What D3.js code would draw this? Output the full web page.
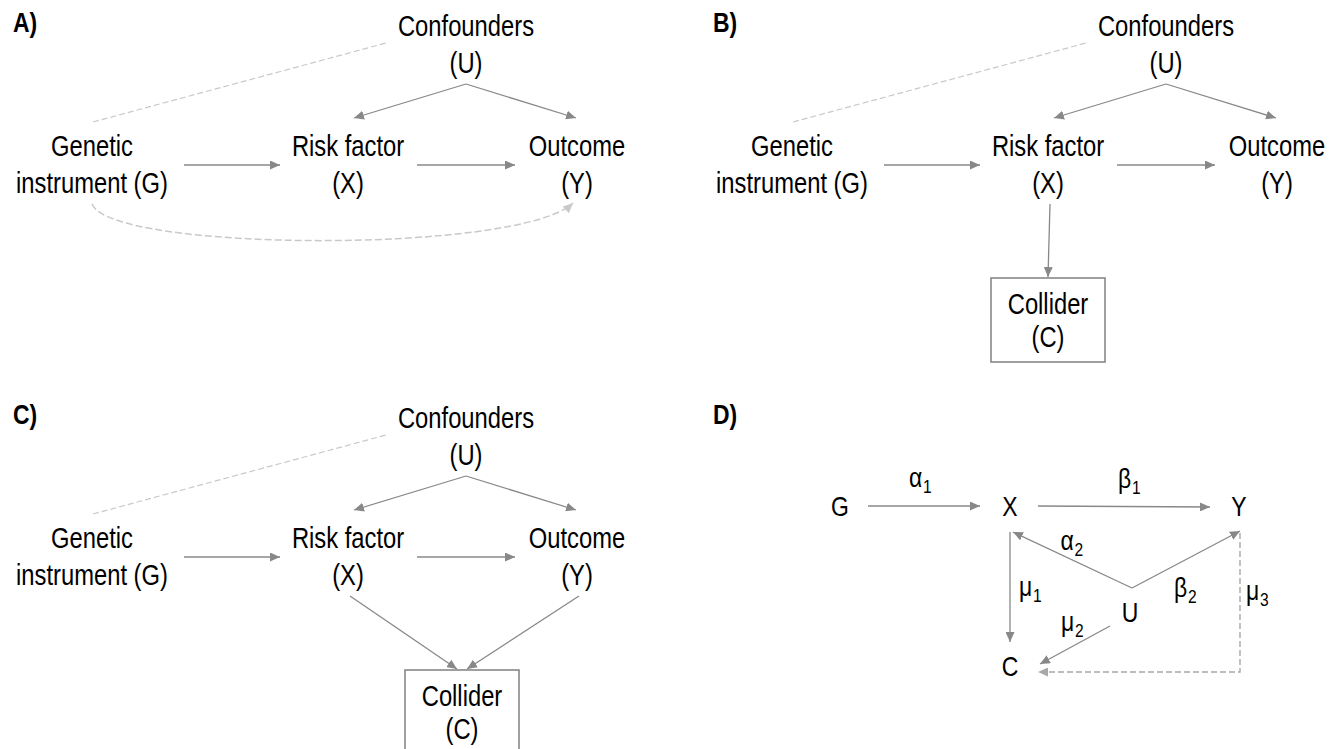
<!DOCTYPE html>
<html>
<head>
<meta charset="utf-8">
<script src="https://cdn.jsdelivr.net/npm/d3@7"></script>
<style>
    body { margin: 0; background: #ffffff; }
    svg { display: block; }
</style>
</head>
<body>
<svg id="chart" width="1330" height="749"></svg>
<script>
// ---- data ----
const panels = ["A", "B", "C", "D"];
const panelTitles = ["A)", "B)", "C)", "D)"];

// word diagrams (A, B, C)
const nodeIds = ["U", "G", "X", "Y", "C"];
const nodeLines = [
    ["Confounders", "(U)"],
    ["Genetic", "instrument (G)"],
    ["Risk factor", "(X)"],
    ["Outcome", "(Y)"],
    ["Collider", "(C)"]
];

// [source, target, kind]
const edgesA = [
    ["G", "U", "assoc"],
    ["G", "Y", "pleiotropy"],
    ["G", "X", "effect"],
    ["X", "Y", "effect"],
    ["U", "X", "effect"],
    ["U", "Y", "effect"]
];
const edgesB = [
    ["G", "U", "assoc"],
    ["G", "X", "effect"],
    ["X", "Y", "effect"],
    ["U", "X", "effect"],
    ["U", "Y", "effect"],
    ["X", "C", "effect"]
];
const edgesC = [
    ["G", "U", "assoc"],
    ["G", "X", "effect"],
    ["X", "Y", "effect"],
    ["U", "X", "effect"],
    ["U", "Y", "effect"],
    ["X", "C", "effect"],
    ["Y", "C", "effect"]
];

// symbolic diagram (D): [source, target, symbol, subscript]
const dNodes = ["G", "X", "Y", "U", "C"];
const dEdges = [
    ["G", "X", "α", "1"],
    ["X", "Y", "β", "1"],
    ["U", "X", "α", "2"],
    ["U", "Y", "β", "2"],
    ["X", "C", "μ", "1"],
    ["U", "C", "μ", "2"],
    ["Y", "C", "μ", "3"]
];

// ---- layout ----
const attr = {
    size: 29,
    dSize: 28,
    subSize: 19,
    titleSize: 28,
    line: "#888888",
    light: "#c9c9c9",
    mid: "#a8a8a8",
    stroke: 1.3,
    boxW: 114,
    boxH: 84
};

const panelX = d3.scaleOrdinal().domain(panels).range([0, 700, 0, 700]);
const panelY = d3.scaleOrdinal().domain(panels).range([0, 0, 392, 392]);
const title = d3.scaleOrdinal().domain(panels).range(panelTitles);

const colX = d3.scaleOrdinal().domain(["G", "X", "U", "Y"]).range([92, 348, 466, 577]);
const rowY = d3.scaleOrdinal().domain(["U", "G", "X", "Y", "C"]).range([84, 165, 165, 165, 278]);
const lines = d3.scaleOrdinal().domain(nodeIds).range(nodeLines);

const dX = d3.scaleOrdinal().domain(dNodes).range([140, 310, 539, 430, 310]);
const dY = d3.scaleOrdinal().domain(dNodes).range([114, 114, 114, 220, 274]);

const dPorts = {
    "G-X": [[28, 0], [-30, 0]],
    "X-Y": [[28, 0], [-29, 1]],
    "U-X": [[2, -24], [3, 26]],
    "U-Y": [[2, -24], [1, 25]],
    "X-C": [[0, 26], [0, -24]],
    "U-C": [[-20, 14], [30, -2]],
    "Y-C": [[1, 27], [28, 6]]
};
const dLabelOffset = {
    "G-X": [-15, -19],
    "X-Y": [-6, -19],
    "U-X": [-12, -10],
    "U-Y": [-12, 37],
    "X-C": [9, 9],
    "U-C": [-14, -14],
    "Y-C": [6, -3]
};

// font: prefer a narrow face, else squeeze the regular one
const hasFont = function(name) {
    let c = document.createElement("canvas").getContext("2d");
    c.font = "40px monospace";
    let a = c.measureText("Confounders Wim").width;
    c.font = '40px "' + name + '", monospace';
    let b = c.measureText("Confounders Wim").width;
    return a !== b;
};
const narrow = hasFont("Liberation Sans Narrow");
const FONT = narrow ? '"Liberation Sans Narrow", "Arial Narrow", sans-serif' : '"Liberation Sans", Arial, sans-serif';
const SX = narrow ? 1 : 0.82;

const translate = function(a, b) {
    return "translate(" + a + ", " + b + ")";
};

const put = function(g, x, y, str, size, weight, anchor) {
    return g
        .append("g")
        .attr("transform", translate(x, y) + " scale(" + SX + ",1)")
        .append("text")
        .attr("text-anchor", anchor || "middle")
        .style("font-family", FONT)
        .style("font-size", size + "px")
        .style("font-weight", weight || "normal")
        .style("fill", "#000")
        .text(str);
};

const svg = d3.select("#chart");

// arrow markers
const defs = svg.append("defs");
[["head", attr.line], ["headLight", attr.light], ["headMid", attr.mid]].forEach(function(m) {
    defs.append("marker")
        .attr("id", m[0])
        .attr("viewBox", "0 0 10 9")
        .attr("refX", 10)
        .attr("refY", 4.5)
        .attr("markerWidth", 10)
        .attr("markerHeight", 9)
        .attr("markerUnits", "userSpaceOnUse")
        .attr("orient", "auto")
        .append("path")
        .attr("d", "M0,0L10,4.5L0,9Z")
        .style("fill", m[1]);
});

const drawWordPanel = function(pid, edges, colliderX) {
    let g = svg.append("g").attr("transform", translate(panelX(pid), panelY(pid)));
    put(g, 13, 32, title(pid), attr.titleSize, "bold", "start");

    let pos = id => (id === "C" ? [colliderX, rowY("C")] : [colX(id), rowY(id)]);

    let ends = function(s, t, kind) {
        let a = pos(s), b = pos(t);
        if (kind === "assoc") return [[a[0] + 1, a[1] - 43], [b[0] - 80, b[1] - 41]];
        if (kind === "pleiotropy") return [[a[0], a[1] + 39], [b[0] - 4, b[1] + 38]];
        if (s === "U") return [a, [b[0] + (t === "X" ? 6 : -1), b[1] - 47]];
        if (t === "C") {
            let dx = Math.sign(a[0] - b[0]) * 5;
            return [[a[0] + 2, a[1] + 39], [b[0] + dx, b[1] - 1]];
        }
        return [[a[0] + (s === "G" ? 92 : 69), a[1]], [b[0] - (t === "X" ? 68 : 62), b[1]]];
    };

    edges.forEach(function(e) {
        let p = ends(e[0], e[1], e[2]);
        if (e[2] === "assoc") {
            g.append("line")
                .attr("x1", p[0][0]).attr("y1", p[0][1])
                .attr("x2", p[1][0]).attr("y2", p[1][1])
                .style("stroke", attr.light)
                .style("stroke-width", 1.2)
                .style("stroke-dasharray", "6,3");
        } else if (e[2] === "pleiotropy") {
            let path = d3.path();
            path.moveTo(p[0][0], p[0][1]);
            path.bezierCurveTo(p[0][0] + 18, p[0][1] + 48, p[1][0] - 53, p[1][1] + 51, p[1][0], p[1][1]);
            g.append("path")
                .attr("d", path.toString())
                .style("fill", "none")
                .style("stroke", attr.light)
                .style("stroke-width", 1.5)
                .style("stroke-dasharray", "7,3")
                .attr("marker-end", "url(#headLight)");
        } else {
            g.append("line")
                .attr("x1", p[0][0]).attr("y1", p[0][1])
                .attr("x2", p[1][0]).attr("y2", p[1][1])
                .style("stroke", attr.line)
                .style("stroke-width", attr.stroke)
                .attr("marker-end", "url(#head)");
        }
    });

    let used = nodeIds.filter(id => edges.some(e => e[0] === id || e[1] === id));
    used.forEach(function(id) {
        let p = pos(id);
        let txt = lines(id);
        if (id === "U") {
            put(g, p[0], p[1] - 48, txt[0], attr.size);
            put(g, p[0], p[1] - 11, txt[1], attr.size);
        } else if (id === "C") {
            g.append("rect")
                .attr("x", p[0] - attr.boxW / 2)
                .attr("y", p[1])
                .attr("width", attr.boxW)
                .attr("height", attr.boxH)
                .style("fill", "none")
                .style("stroke", attr.line)
                .style("stroke-width", 1.6);
            put(g, p[0], p[1] + 36, txt[0], attr.size);
            put(g, p[0], p[1] + 69, txt[1], attr.size);
        } else {
            put(g, p[0], p[1] - 9, txt[0], attr.size);
            put(g, p[0], p[1] + 28, txt[1], attr.size);
        }
    });
};

const drawSymbolPanel = function(pid) {
    let g = svg.append("g").attr("transform", translate(panelX(pid), panelY(pid)));
    put(g, 13, 32, title(pid), attr.titleSize, "bold", "start");

    dEdges.forEach(function(e) {
        let key = e[0] + "-" + e[1];
        let pr = dPorts[key];
        let a = [dX(e[0]) + pr[0][0], dY(e[0]) + pr[0][1]];
        let b = [dX(e[1]) + pr[1][0], dY(e[1]) + pr[1][1]];
        let mid;
        if (key === "Y-C") {
            g.append("path")
                .attr("d", "M" + a[0] + "," + a[1] + "V" + b[1] + "H" + b[0])
                .style("fill", "none")
                .style("stroke", attr.mid)
                .style("stroke-width", 1.4)
                .style("stroke-dasharray", "6,3")
                .attr("marker-end", "url(#headMid)");
            mid = [a[0], (a[1] + b[1]) / 2];
        } else {
            g.append("line")
                .attr("x1", a[0]).attr("y1", a[1])
                .attr("x2", b[0]).attr("y2", b[1])
                .style("stroke", attr.line)
                .style("stroke-width", attr.stroke)
                .attr("marker-end", "url(#head)");
            mid = [(a[0] + b[0]) / 2, (a[1] + b[1]) / 2];
        }
        let off = dLabelOffset[key];
        let t = put(g, mid[0] + off[0], mid[1] + off[1], e[2], attr.dSize, "normal", "start");
        t.append("tspan")
            .attr("dx", 1)
            .attr("dy", 6)
            .style("font-size", attr.subSize + "px")
            .text(e[3]);
    });

    dNodes.forEach(function(id) {
        put(g, dX(id), dY(id) + 10, id, attr.dSize);
    });
};

drawWordPanel("A", edgesA, 0);
drawWordPanel("B", edgesB, colX("X"));
drawWordPanel("C", edgesC, 462);
drawSymbolPanel("D");
</script>
</body>
</html>
